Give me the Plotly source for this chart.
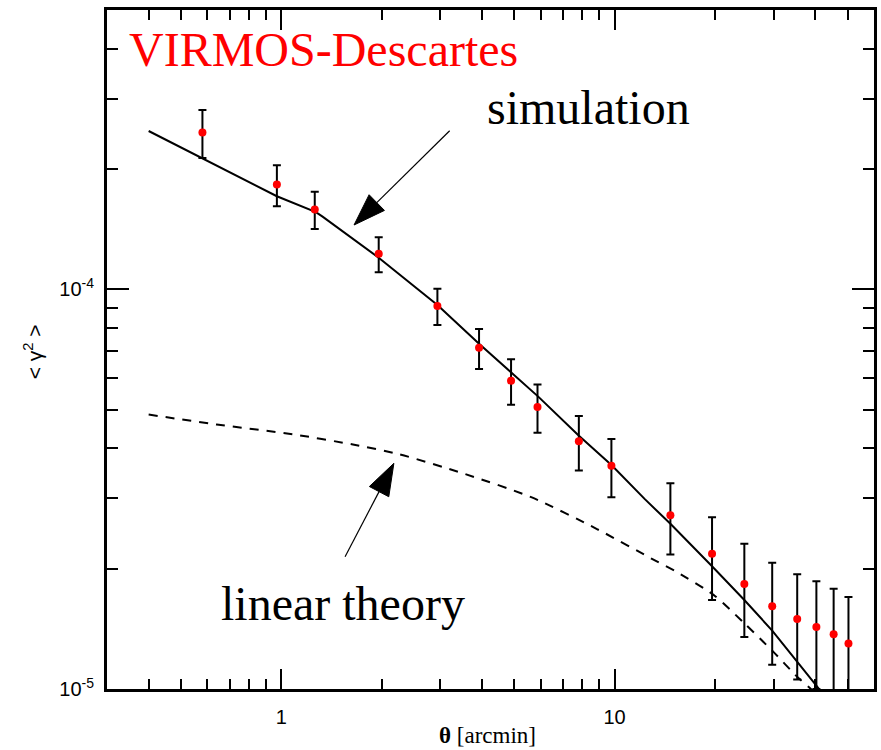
import math
import plotly.graph_objects as go

# ---------------- data ----------------
theta_obs = [0.58, 0.97, 1.26, 1.96, 2.94, 3.92, 4.89, 5.87, 7.81, 9.78,
             14.7, 19.6, 24.5, 29.7, 35.3, 40.3, 45.4, 50.3]
gamma2_obs = [2.47e-4, 1.83e-4, 1.585e-4, 1.227e-4, 9.09e-5, 7.14e-5, 5.91e-5,
              5.08e-5, 4.17e-5, 3.62e-5, 2.72e-5, 2.18e-5, 1.83e-5, 1.61e-5,
              1.497e-5, 1.43e-5, 1.371e-5, 1.30e-5]
gamma2_err = [0.34e-4, 0.215e-4, 0.17e-4, 0.123e-4, 0.95e-5, 0.82e-5, 0.77e-5,
              0.70e-5, 0.65e-5, 0.60e-5, 0.55e-5, 0.51e-5, 0.48e-5, 0.46e-5,
              0.44e-5, 0.43e-5, 0.41e-5, 0.40e-5]

theta_sim = [0.4, 0.58, 0.97, 1.27, 1.33, 1.96, 2.94, 3.92, 4.9, 5.9, 7.8, 9.8,
             12.3, 14.7, 19.7, 24.5, 29.7, 35.3, 40.2, 48.0]
gamma2_sim = [2.49e-4, 2.13e-4, 1.71e-4, 1.56e-4, 1.52e-4, 1.20e-4, 9.14e-5,
              7.31e-5, 6.19e-5, 5.39e-5, 4.31e-5, 3.63e-5, 2.99e-5, 2.59e-5,
              2.02e-5, 1.67e-5, 1.40e-5, 1.172e-5, 1.023e-5, 0.85e-5]

theta_lin = [0.4, 0.64, 1.08, 1.64, 2.25, 3.56, 5.62, 8.88, 12.9, 15.4, 19.8,
             24.3, 29.9, 35.4, 38.8, 44.5]
gamma2_lin = [4.86e-5, 4.59e-5, 4.34e-5, 4.09e-5, 3.87e-5, 3.45e-5, 3.02e-5,
              2.51e-5, 2.12e-5, 1.96e-5, 1.72e-5, 1.47e-5, 1.24e-5, 1.07e-5,
              1.0e-5, 0.89e-5]

x_major = [1, 10]
x_major_text = ["1", "10"]
x_minor = [0.4, 0.5, 0.6, 0.7, 0.8, 0.9, 2, 3, 4, 5, 6, 7, 8, 9, 20, 30, 40, 50]
y_major = [1e-5, 1e-4]
y_major_text = ["10<sup>-5</sup>", "10<sup>-4</sup>"]
y_minor = [2e-5, 3e-5, 4e-5, 5e-5, 6e-5, 7e-5, 8e-5, 9e-5, 2e-4, 3e-4, 4e-4]

# ---------------- layout geometry ----------------
W, H = 881, 750
ML, MR, MT, MB = 107, 4, 10, 61
PW, PH = W - ML - MR, H - MT - MB


def px(x):
    return (x - ML) / PW


def py(y):
    return (H - MB - y) / PH


SERIF = "Liberation Serif"
SANS = "Liberation Sans"

fig = go.Figure()

fig.add_trace(go.Scatter(x=theta_sim, y=gamma2_sim, mode="lines",
                         line=dict(color="black", width=2), showlegend=False))
fig.add_trace(go.Scatter(x=theta_lin, y=gamma2_lin, mode="lines",
                         line=dict(color="black", width=2, dash="9px,8px",
                                   shape="spline", smoothing=0.7),
                         showlegend=False))
fig.add_trace(go.Scatter(x=theta_obs, y=gamma2_obs, mode="markers",
                         marker=dict(color="#ff0000", size=8),
                         error_y=dict(type="data", array=gamma2_err, visible=True,
                                      color="black", thickness=2, width=4),
                         showlegend=False))

axis_common = dict(
    type="log", showline=True, linewidth=3, linecolor="black", mirror="allticks",
    ticks="inside", tickwidth=2, tickcolor="black", showgrid=False, zeroline=False,
    tickmode="array", tickfont=dict(family=SANS, size=20, color="black"),
)

fig.update_xaxes(**axis_common, range=[math.log10(0.3), math.log10(60)],
                 tickvals=x_major, ticktext=x_major_text, ticklen=20,
                 ticklabelstandoff=8,
                 minor=dict(ticks="inside", ticklen=10, tickwidth=2,
                            tickcolor="black", tickmode="array",
                            tickvals=x_minor, showgrid=False))
fig.update_yaxes(**axis_common, range=[-5, math.log10(5e-4)],
                 tickvals=y_major, ticktext=y_major_text, ticklen=22,
                 ticklabelstandoff=6,
                 minor=dict(ticks="inside", ticklen=11, tickwidth=2,
                            tickcolor="black", tickmode="array",
                            tickvals=y_minor, showgrid=False))

annotations = [
    dict(text="VIRMOS-Descartes", x=px(127), y=py(21), xanchor="left", yanchor="top",
         font=dict(family=SERIF, size=48, color="#ff0000")),
    dict(text="simulation", x=px(486), y=py(79), xanchor="left", yanchor="top",
         font=dict(family=SERIF, size=48, color="black")),
    dict(text="linear theory", x=px(219), y=py(575), xanchor="left", yanchor="top",
         font=dict(family=SERIF, size=48, color="black")),
    dict(text="<b>θ</b> [arcmin]", x=px(489), y=py(735), xanchor="center",
         yanchor="middle", font=dict(family=SERIF, size=23, color="black")),
    dict(text="&lt; γ<sup>2</sup> &gt;", x=px(33), y=py(352), xanchor="center",
         yanchor="middle", textangle=-90,
         font=dict(family=SANS, size=21, color="black")),
]
for a in annotations:
    a.update(xref="paper", yref="paper", showarrow=False)

shapes = []


def arrow(tail, tip, head_len=32, half_w=11):
    dx, dy = tip[0] - tail[0], tip[1] - tail[1]
    L = math.hypot(dx, dy)
    ux, uy = dx / L, dy / L
    bx, by = tip[0] - head_len * ux, tip[1] - head_len * uy
    nx, ny = -uy, ux
    c1 = (bx + half_w * nx, by + half_w * ny)
    c2 = (bx - half_w * nx, by - half_w * ny)
    shapes.append(dict(type="line", xref="paper", yref="paper",
                       x0=px(tail[0]), y0=py(tail[1]), x1=px(bx), y1=py(by),
                       line=dict(color="black", width=1.2)))
    path = "M{},{} L{},{} L{},{} Z".format(px(tip[0]), py(tip[1]),
                                          px(c1[0]), py(c1[1]),
                                          px(c2[0]), py(c2[1]))
    shapes.append(dict(type="path", xref="paper", yref="paper", path=path,
                       fillcolor="black", line=dict(color="black", width=1)))


arrow((451, 130.7), (355, 225))
arrow((346, 556.7), (395, 463.3))

fig.update_layout(width=W, height=H, autosize=False,
                  margin=dict(l=ML, r=MR, t=MT, b=MB, pad=0),
                  paper_bgcolor="white", plot_bgcolor="white",
                  annotations=annotations, shapes=shapes)

fig.write_html("out.html")
